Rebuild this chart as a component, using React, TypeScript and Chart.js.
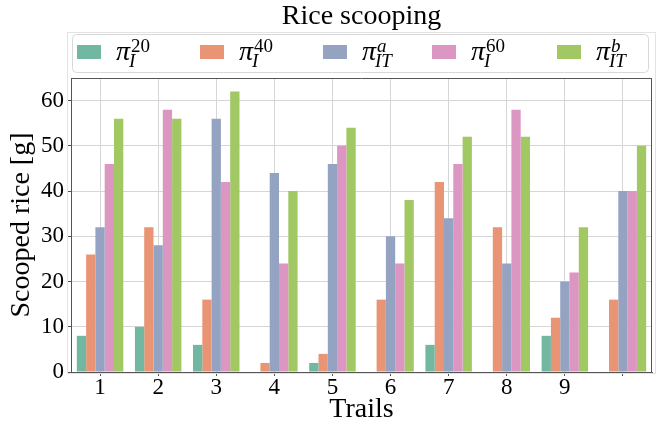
import { useEffect, useRef } from "react";
import { Chart, registerables } from "chart.js";

Chart.register(...registerables);

// ---- data ----
const categories = ["1", "2", "3", "4", "5", "6", "7", "8", "9", ""];
const seriesSub = ["I", "I", "IT", "I", "IT"];
const seriesSup = ["20", "40", "a", "60", "b"];
const piI20 = [8, 10, 6, 0, 2, 0, 6, 0, 8, 0];
const piI40 = [26, 32, 16, 2, 4, 16, 42, 32, 12, 16];
const piITa = [32, 28, 56, 44, 46, 30, 34, 24, 20, 40];
const piI60 = [46, 58, 42, 24, 50, 24, 46, 58, 22, 40];
const piITb = [56, 56, 62, 40, 54, 38, 52, 52, 32, 50];
const yTicks = [0, 10, 20, 30, 40, 50, 60];
const titleText = "Rice scooping";
const xTitle = "Trails";
const yTitle = "Scooped rice [g]";

const colors = ["#71b7a1", "#e99575", "#95a3c3", "#db96c1", "#a2c864"];
const FONT = '"Liberation Serif", "Times New Roman", serif';

const legendSwatchX = [77, 200, 323, 432, 557];

function roundRect(ctx: CanvasRenderingContext2D, x: number, y: number, w: number, h: number, r: number) {
  ctx.beginPath();
  ctx.moveTo(x + r, y);
  ctx.lineTo(x + w - r, y);
  ctx.quadraticCurveTo(x + w, y, x + w, y + r);
  ctx.lineTo(x + w, y + h - r);
  ctx.quadraticCurveTo(x + w, y + h, x + w - r, y + h);
  ctx.lineTo(x + r, y + h);
  ctx.quadraticCurveTo(x, y + h, x, y + h - r);
  ctx.lineTo(x, y + r);
  ctx.quadraticCurveTo(x, y, x + r, y);
  ctx.closePath();
}

const framePlugin = {
  id: "frameAndLegend",
  afterDraw(chart: any) {
    const ctx: CanvasRenderingContext2D = chart.ctx;
    const ca = chart.chartArea;
    ctx.save();
    // title centred over the plot area
    ctx.fillStyle = "#000";
    ctx.font = `28px ${FONT}`;
    ctx.textAlign = "center";
    ctx.textBaseline = "middle";
    ctx.fillText(titleText, (ca.left + ca.right) / 2, 17);

    // faint outer frame
    ctx.strokeStyle = "#e3e3e3";
    ctx.lineWidth = 1;
    ctx.strokeRect(67.5, 32.5, 588, 341);
    // top & right spines
    ctx.strokeStyle = "#555555";
    ctx.beginPath();
    ctx.moveTo(ca.left, Math.round(ca.top) + 0.5);
    ctx.lineTo(ca.right, Math.round(ca.top) + 0.5);
    ctx.moveTo(Math.round(ca.right) - 0.5, ca.top);
    ctx.lineTo(Math.round(ca.right) - 0.5, ca.bottom);
    ctx.stroke();

    // legend box
    roundRect(ctx, 72.5, 34.5, 576, 38, 4);
    ctx.fillStyle = "rgba(255,255,255,0.9)";
    ctx.fill();
    ctx.strokeStyle = "#d8d8d8";
    ctx.stroke();

    chart.data.datasets.forEach((ds: any, i: number) => {
      const sx = legendSwatchX[i];
      ctx.fillStyle = ds.backgroundColor;
      ctx.fillRect(sx, 45, 24, 14);
      const tx = sx + 39;
      const base = 60;
      ctx.fillStyle = "#000";
      ctx.textBaseline = "alphabetic";
      ctx.textAlign = "left";
      ctx.font = `italic 28px ${FONT}`;
      ctx.fillText("π", tx, base);
      const pw = ctx.measureText("π").width;
      ctx.font = `italic 19px ${FONT}`;
      ctx.fillText(seriesSub[i], tx + pw - 1, base + 7);
      const sup = seriesSup[i];
      ctx.font = /^\d+$/.test(sup) ? `19px ${FONT}` : `italic 19px ${FONT}`;
      ctx.fillText(sup, tx + pw + 1, base - 8);
    });
    ctx.restore();
  },
};

export default function App() {
  const ref = useRef<HTMLCanvasElement | null>(null);
  useEffect(() => {
    if (!ref.current) return;
    const series = [piI20, piI40, piITa, piI60, piITb];
    const chart = new Chart(ref.current, {
      type: "bar",
      data: {
        labels: categories,
        datasets: series.map((d, i) => ({
          label: `π_${seriesSub[i]}^${seriesSup[i]}`,
          data: d,
          backgroundColor: colors[i],
          borderWidth: 0,
          categoryPercentage: 0.8,
          barPercentage: 1.0,
        })),
      },
      options: {
        responsive: false,
        animation: false,
        devicePixelRatio: 1,
        layout: { padding: { top: 78, right: 9, left: 0, bottom: 0 } },
        plugins: {
          legend: { display: false },
          tooltip: { enabled: false },
          title: { display: false },
        },
        scales: {
          x: {
            grid: { color: "#d6d6d6", lineWidth: 1, offset: false, tickLength: 4, tickColor: "#555555" },
            border: { display: true, color: "#555555", width: 1 },
            ticks: {
              color: "#000",
              font: { family: FONT, size: 23 },
              padding: -2,
              maxRotation: 0,
              autoSkip: false,
            },
            title: {
              display: true,
              text: xTitle,
              color: "#000",
              font: { family: FONT, size: 28, lineHeight: 1 },
              padding: { top: 0, bottom: 0 },
            },
            afterFit: (s: any) => {
              s.height = 52;
            },
          },
          y: {
            min: 0,
            max: 65,
            afterBuildTicks: (s: any) => {
              s.ticks = yTicks.map((v) => ({ value: v }));
            },
            grid: { color: "#d6d6d6", lineWidth: 1, tickLength: 4, tickColor: "#555555" },
            border: { display: true, color: "#555555", width: 1 },
            ticks: {
              color: "#000",
              font: { family: FONT, size: 23 },
              padding: 3,
            },
            title: {
              display: true,
              text: yTitle,
              color: "#000",
              font: { family: FONT, size: 28, lineHeight: 1 },
              padding: { top: 8, bottom: 0 },
            },
            afterFit: (s: any) => {
              s.width = 71;
            },
          },
        },
      },
      plugins: [framePlugin],
    });
    return () => chart.destroy();
  }, []);
  return (
    <div style={{ position: "fixed", left: 0, top: 0, width: 661, height: 424, background: "#fff" }}>
      <canvas ref={ref} width={661} height={424} style={{ width: 661, height: 424, display: "block" }} />
    </div>
  );
}
